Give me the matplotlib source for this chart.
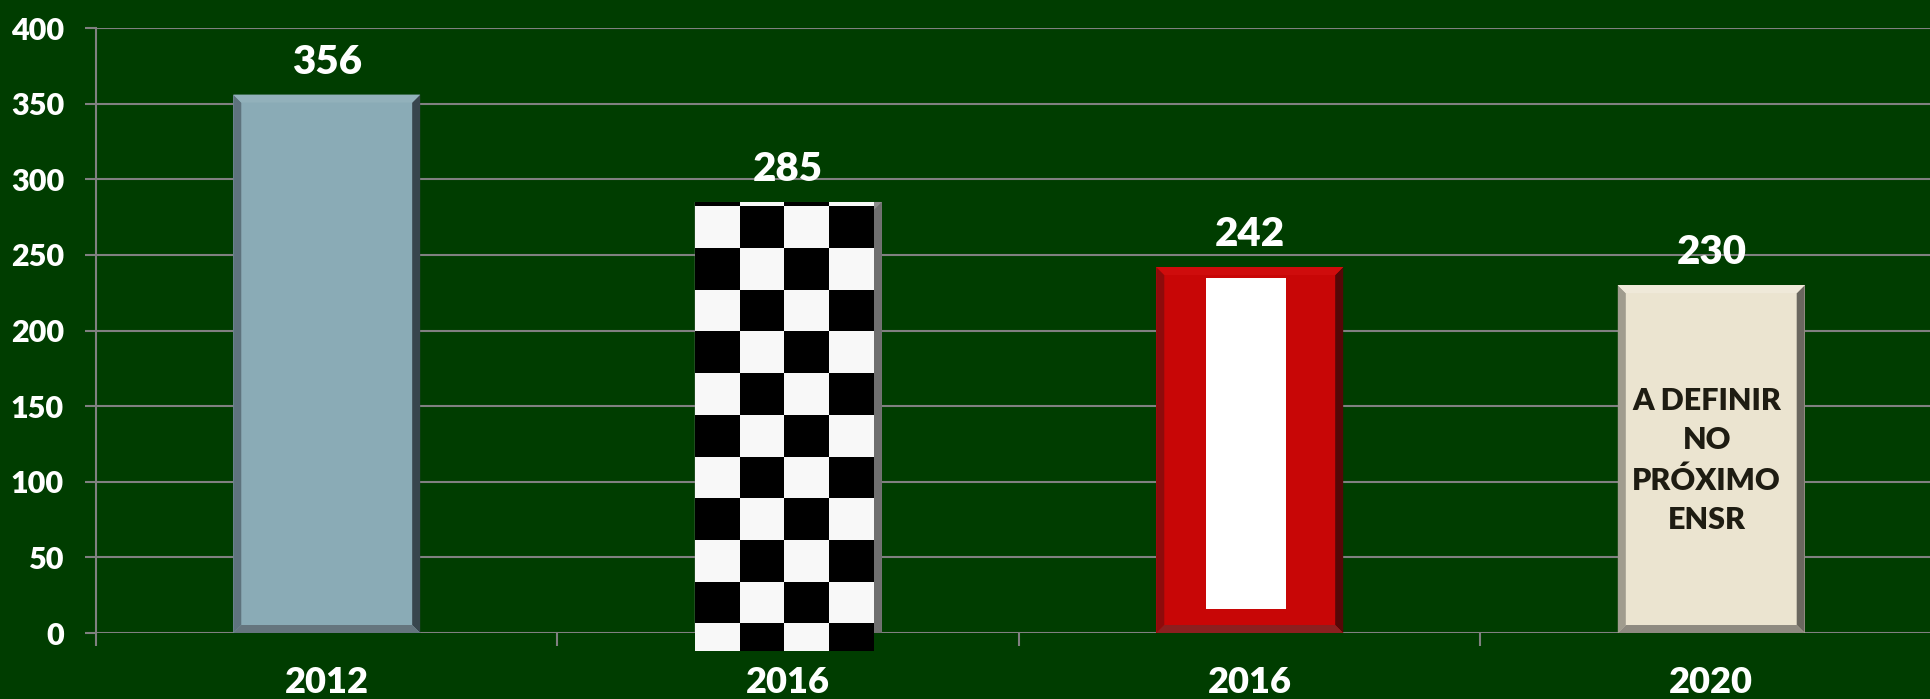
import numpy as np
import matplotlib.pyplot as plt
from matplotlib.patches import Polygon, Rectangle

# dados
anos = ['2012', '2016', '2016', '2020']
valores = [356, 285, 242, 230]
nota = 'A DEFINIR\nNO\nPRÓXIMO\nENSR'
yticks = list(range(0, 401, 50))

verde = '#003d00'
cinza = '#808080'

plt.rcParams['font.family'] = ['Lato', 'DejaVu Sans']
plt.rcParams['font.weight'] = 'heavy'

fig = plt.figure(figsize=(19.31, 6.99), dpi=100, facecolor=verde)
ax = fig.add_axes((0.0497, 0.0944, 0.956, 0.8655))
ax.set_facecolor(verde)
ax.set_xlim(0, 4)
ax.set_ylim(0, 400)

x = np.arange(len(valores)) + 0.5
larg = 0.405
faces = ['#8aabb6', '#7f7f7f', '#c80606', '#ebe4d0']
# esquerda, direita, topo, base
bordas = [('#5e737d', '#38454d', '#92b1bb', '#65757e'),
          ('#8c8c8c', '#6f6f6f', '#8c8c8c', '#6f6f6f'),
          ('#8e0b0b', '#550707', '#cf0c0c', '#8b1f1f'),
          ('#a09c8e', '#6a675f', '#efe9d9', '#8e8a80')]

barras = ax.bar(x, valores, larg, color=faces, zorder=2)

# tamanho do chanfro em pixels -> unidades de dados
px = 8
bx = px / (ax.bbox.width / 4)
by = px / (ax.bbox.height / 400)

for b, (ce, cd, ct, cb) in zip(barras, bordas):
    x0 = b.get_x()
    x1 = x0 + b.get_width()
    y0, y1 = 0, b.get_height()
    ax.add_patch(Polygon([(x0, y0), (x0 + bx, y0 + by), (x0 + bx, y1 - by), (x0, y1)], color=ce, zorder=2.5, lw=0))
    ax.add_patch(Polygon([(x1, y0), (x1 - bx, y0 + by), (x1 - bx, y1 - by), (x1, y1)], color=cd, zorder=2.5, lw=0))
    ax.add_patch(Polygon([(x0, y1), (x1, y1), (x1 - bx, y1 - by), (x0 + bx, y1 - by)], color=ct, zorder=2.5, lw=0))
    ax.add_patch(Polygon([(x0, y0), (x1, y0), (x1 - bx, y0 + by), (x0 + bx, y0 + by)], color=cb, zorder=2.5, lw=0))

# xadrez na segunda barra
b = barras[1]
x0 = b.get_x()
x1 = x0 + b.get_width() - bx
topo = b.get_height()
base = -12
rh = 27.6
cw = (x1 - x0) / 4
ytop = topo - 2.7
for k in range(-1, 11):
    hi = min(ytop - k * rh, topo)
    lo = max(ytop - (k + 1) * rh, base)
    if hi <= lo:
        continue
    for c in range(4):
        cor = '#f8f8f8' if (k + c) % 2 == 0 else '#000000'
        ax.add_patch(Rectangle((x0 + c * cw, lo), cw, hi - lo, color=cor, lw=0,
                               zorder=3, clip_on=False))

# faixa branca na barra vermelha
b = barras[2]
fw = 0.173
ax.add_patch(Rectangle((b.get_x() + b.get_width() / 2 - fw / 2 - 0.009, 16), fw, b.get_height() - 7 - 16,
                       color='white', lw=0, zorder=3))

# texto na ultima barra
ax.text(x[3] - 0.01, 114, nota, ha='center', va='center', fontsize=22, color='#1e1c12',
        linespacing=1.5, zorder=4)

for xi, v in zip(x, valores):
    ax.annotate(str(v), (xi, v), xytext=(0, 15), textcoords='offset points',
                ha='center', va='baseline', color='white', fontsize=29, zorder=5)

ax.set_xticks(x)
ax.set_xticklabels(anos)
ax.set_xticks(np.arange(5), minor=True)
ax.tick_params(axis='x', which='major', length=0, pad=24, labelsize=26, labelcolor='white')
ax.tick_params(axis='x', which='minor', length=9, width=1.5, color=cinza)
ax.set_yticks(yticks)
ax.tick_params(axis='y', length=8, width=1.5, color=cinza, pad=15, labelsize=22, labelcolor='white')

ax.grid(axis='y', color=cinza, linewidth=1.5)
ax.set_axisbelow(True)
for s in ['top', 'right', 'bottom']:
    ax.spines[s].set_visible(False)
ax.spines['left'].set_color(cinza)
ax.spines['left'].set_linewidth(1.5)

fig.savefig('out.png', dpi=100, facecolor=verde)
